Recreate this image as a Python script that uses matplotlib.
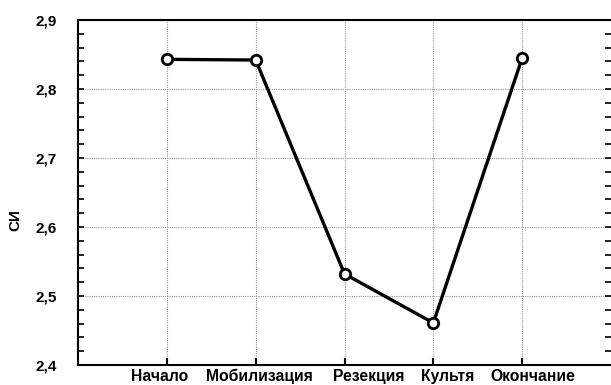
import matplotlib
matplotlib.use("Agg")
import matplotlib.pyplot as plt
import matplotlib.transforms as mtransforms
from matplotlib.ticker import MultipleLocator, FuncFormatter

plt.rcParams['font.family'] = ['Liberation Sans', 'DejaVu Sans']

stages = ['Начало', 'Мобилизация', 'Резекция', 'Культя', 'Окончание']
si_values = [2.843, 2.842, 2.532, 2.461, 2.845]
# labels in the original are not centred on their ticks: left edge shift in px
label_shift = [-36, -50, -12, -12, -32]

fig = plt.figure(figsize=(6.11, 3.85), dpi=100)
ax = fig.add_axes([78 / 611, 20 / 385, 533 / 611, 345 / 385])

x = list(range(1, len(stages) + 1))
ax.plot(x, si_values, color='black', linewidth=2.4, marker='o', markersize=7.5,
        markerfacecolor='white', markeredgecolor='black', markeredgewidth=2, zorder=3)

ax.set_xlim(0, 6)
ax.set_ylim(2.4, 2.9)
ax.set_xticks(x)
ax.set_xticklabels([])
ax.yaxis.set_major_locator(MultipleLocator(0.1))
ax.yaxis.set_minor_locator(MultipleLocator(0.02))
ax.yaxis.set_major_formatter(FuncFormatter(lambda v, p: f'{v:.1f}'.replace('.', ',')))
for lab in ax.get_yticklabels():
    lab.set_fontweight('bold')
    lab.set_fontsize(11)

# category labels
base = mtransforms.blended_transform_factory(ax.transData, ax.transAxes)
for xi, name, dx in zip(x, stages, label_shift):
    tr = base + mtransforms.ScaledTranslation(dx / 100, -4 / 100, fig.dpi_scale_trans)
    ax.text(xi, 0, name, transform=tr, ha='left', va='top',
            fontsize=11.3, fontweight='bold')

ax.grid(True, which='major', linestyle=(0, (1, 1)), color='#999999', linewidth=0.8)
ax.tick_params(axis='x', direction='in', length=5, width=1.5, top=False)
ax.tick_params(axis='y', which='both', direction='in', length=4, width=1.2,
               left=True, right=True, pad=15)

for side in ['left', 'bottom', 'top']:
    ax.spines[side].set_linewidth(1.5)
ax.spines['right'].set_visible(False)

ax.set_ylabel('СИ', fontsize=11, fontweight='bold')
ax.yaxis.set_label_coords(-0.105, 0.42)

fig.savefig('out.png', dpi=100)
